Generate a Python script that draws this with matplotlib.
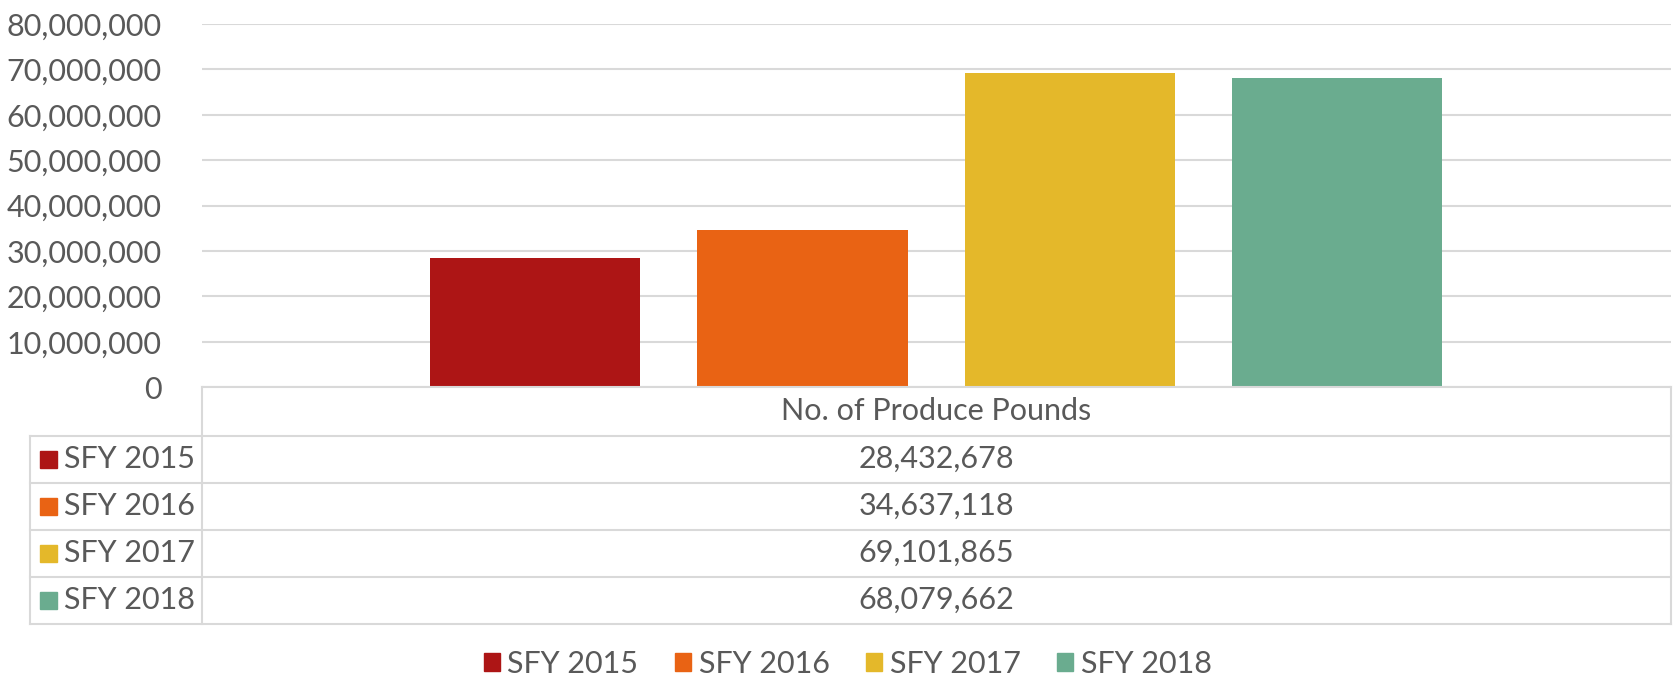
import matplotlib
matplotlib.use("Agg")
import matplotlib.pyplot as plt
from matplotlib.patches import Rectangle
from matplotlib.ticker import FuncFormatter

# data
series = ["SFY 2015", "SFY 2016", "SFY 2017", "SFY 2018"]
pounds = [28432678, 34637118, 69101865, 68079662]
category = "No. of Produce Pounds"
colors = ["#AD1515", "#E96314", "#E4B82A", "#6AAC8F"]
y_ticks = [0, 10000000, 20000000, 30000000, 40000000, 50000000, 60000000, 70000000, 80000000]

W, H = 1679, 679
TXT = "#595959"
GRID = "#D9D9D9"
FS = 22

plt.rcParams["font.family"] = ["Lato", "DejaVu Sans"]

fig = plt.figure(figsize=(W / 100, H / 100), dpi=100)

# plot area in pixel terms
left, right, top, bottom = 201.7, 1670.7, 24.0, 387.3
ax = fig.add_axes([left / W, 1 - bottom / H, (right - left) / W, (bottom - top) / H])

n = len(series)
bar_w = 0.143
step = 0.182
offsets = [(i - (n - 1) / 2) * step for i in range(n)]
for i in range(n):
    ax.bar(offsets[i], pounds[i], width=bar_w, color=colors[i], zorder=3, label=series[i])

ax.set_xlim(-0.5, 0.5)
ax.set_ylim(0, y_ticks[-1])
ax.set_yticks(y_ticks)
ax.yaxis.set_major_formatter(FuncFormatter(lambda v, p: f"{int(v):,}"))
ax.tick_params(axis="y", length=0, pad=29, labelsize=FS, labelcolor=TXT)
ax.set_xticks([])
ax.grid(axis="y", color=GRID, linewidth=1.5, zorder=0)
for s in ["top", "right", "left"]:
    ax.spines[s].set_visible(False)
ax.spines["bottom"].set_color(GRID)
ax.spines["bottom"].set_linewidth(1.5)
ax.spines["bottom"].set_zorder(4)

# data table below the plot, drawn in figure pixel coords
def fx(x):
    return x / W

def fy(y):
    return 1 - y / H

header_bot = 435.7
row_h = 47.0
tab_left = 29.7
rows_y = [header_bot + i * row_h for i in range(n + 1)]
line_kw = dict(color=GRID, linewidth=1.5, transform=fig.transFigure)

# header cell and grid of the table
fig.add_artist(plt.Line2D([fx(left), fx(left)], [fy(bottom), fy(rows_y[-1])], **line_kw))
fig.add_artist(plt.Line2D([fx(right), fx(right)], [fy(bottom), fy(rows_y[-1])], **line_kw))
fig.add_artist(plt.Line2D([fx(tab_left), fx(tab_left)], [fy(rows_y[0]), fy(rows_y[-1])], **line_kw))
for yy in rows_y:
    fig.add_artist(plt.Line2D([fx(tab_left), fx(right)], [fy(yy), fy(yy)], **line_kw))

mid_x = (left + right) / 2
fig.text(fx(mid_x), fy((bottom + header_bot) / 2), category, ha="center", va="center",
         fontsize=FS, color=TXT)
for i in range(n):
    yc = (rows_y[i] + rows_y[i + 1]) / 2
    fig.text(fx(mid_x), fy(yc), f"{pounds[i]:,}", ha="center", va="center",
             fontsize=FS, color=TXT)
    fig.add_artist(Rectangle((fx(40), fy(yc + 8.5)), 17 / W, 17 / H, color=colors[i],
                             transform=fig.transFigure))
    fig.text(fx(64), fy(yc), series[i], ha="left", va="center", fontsize=FS, color=TXT)

# legend at the bottom
handles = [Rectangle((0, 0), 1, 1, color=c) for c in colors]
fig.legend(handles, series, loc="center", bbox_to_anchor=(0.505, fy(664)), ncol=n,
           frameon=False, fontsize=FS, labelcolor=TXT, handlelength=0.52, handleheight=0.52,
           handletextpad=0.25, columnspacing=1.2)

fig.savefig("out.png", dpi=100)
